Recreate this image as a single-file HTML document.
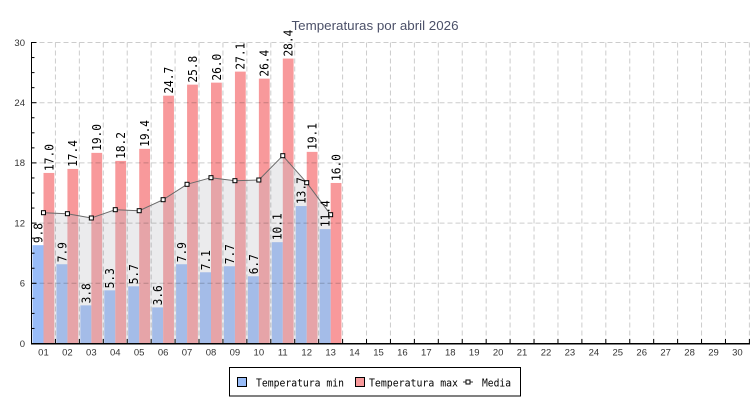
<!DOCTYPE html>
<html><head><meta charset="utf-8"><style>
html,body{margin:0;padding:0;background:#fff;}
svg{display:block;}
.v{font-family:"DejaVu Sans Mono","Liberation Mono",monospace;font-size:12px;fill:#000;}
.ax{font-family:"Liberation Sans",sans-serif;font-size:9.5px;fill:#333;}
</style></head><body>
<svg width="750" height="400" viewBox="0 0 750 400" xmlns="http://www.w3.org/2000/svg">
<rect width="750" height="400" fill="#fff"/>
<text x="375" y="30" text-anchor="middle" font-family="Liberation Sans, sans-serif" font-size="13" fill="#4b5068" textLength="167" lengthAdjust="spacingAndGlyphs">Temperaturas por abril 2026</text>

<!-- bars min -->
<g fill="#98bcf8">
<rect x="32.5" y="245.18" width="11" height="98.32"/>
<rect x="56.43" y="264.24" width="11" height="79.26"/>
<rect x="80.36" y="305.37" width="11" height="38.13"/>
<rect x="104.29" y="290.33" width="11" height="53.17"/>
<rect x="128.22" y="286.31" width="11" height="57.19"/>
<rect x="152.15" y="307.38" width="11" height="36.12"/>
<rect x="176.08" y="264.24" width="11" height="79.26"/>
<rect x="200.01" y="272.27" width="11" height="71.23"/>
<rect x="223.94" y="266.25" width="11" height="77.25"/>
<rect x="247.87" y="276.28" width="11" height="67.22"/>
<rect x="271.8" y="242.17" width="11" height="101.33"/>
<rect x="295.73" y="206.05" width="11" height="137.45"/>
<rect x="319.66" y="229.12" width="11" height="114.38"/>
</g>
<!-- bars max -->
<g fill="#f8999b">
<rect x="43.5" y="172.94" width="10.8" height="170.56"/>
<rect x="67.43" y="168.93" width="10.8" height="174.57"/>
<rect x="91.36" y="152.87" width="10.8" height="190.63"/>
<rect x="115.29" y="160.9" width="10.8" height="182.6"/>
<rect x="139.22" y="148.86" width="10.8" height="194.64"/>
<rect x="163.15" y="95.68" width="10.8" height="247.82"/>
<rect x="187.08" y="84.65" width="10.8" height="258.85"/>
<rect x="211.01" y="82.64" width="10.8" height="260.86"/>
<rect x="234.94" y="71.61" width="10.8" height="271.89"/>
<rect x="258.87" y="78.63" width="10.8" height="264.87"/>
<rect x="282.8" y="58.56" width="10.8" height="284.94"/>
<rect x="306.73" y="151.87" width="10.8" height="191.63"/>
<rect x="330.66" y="182.97" width="10.8" height="160.53"/>
</g>

<!-- media area fill -->
<polygon fill="rgba(190,190,198,0.31)" points="43.47,343.5 43.47,212.7 67.4,213.7 91.33,218 115.26,209.7 139.19,210.7 163.12,199.7 187.05,184.3 210.98,177.7 234.91,180.7 258.84,180 282.77,155.7 306.7,182.7 330.63,214.7 330.63,343.5"/>

<!-- grid -->
<g stroke="rgba(0,0,0,0.2)" stroke-width="1" stroke-dasharray="5,3" fill="none">
<line x1="31.5" y1="283.3" x2="750" y2="283.3"/>
<line x1="31.5" y1="223.1" x2="750" y2="223.1"/>
<line x1="31.5" y1="162.9" x2="750" y2="162.9"/>
<line x1="31.5" y1="102.7" x2="750" y2="102.7"/>
<line x1="31.5" y1="42.5" x2="750" y2="42.5"/>
<line x1="55.43" y1="42.5" x2="55.43" y2="343.5"/>
<line x1="79.36" y1="42.5" x2="79.36" y2="343.5"/>
<line x1="103.29" y1="42.5" x2="103.29" y2="343.5"/>
<line x1="127.22" y1="42.5" x2="127.22" y2="343.5"/>
<line x1="151.15" y1="42.5" x2="151.15" y2="343.5"/>
<line x1="175.08" y1="42.5" x2="175.08" y2="343.5"/>
<line x1="199.01" y1="42.5" x2="199.01" y2="343.5"/>
<line x1="222.94" y1="42.5" x2="222.94" y2="343.5"/>
<line x1="246.87" y1="42.5" x2="246.87" y2="343.5"/>
<line x1="270.8" y1="42.5" x2="270.8" y2="343.5"/>
<line x1="294.73" y1="42.5" x2="294.73" y2="343.5"/>
<line x1="318.66" y1="42.5" x2="318.66" y2="343.5"/>
<line x1="342.59" y1="42.5" x2="342.59" y2="343.5"/>
<line x1="366.52" y1="42.5" x2="366.52" y2="343.5"/>
<line x1="390.45" y1="42.5" x2="390.45" y2="343.5"/>
<line x1="414.38" y1="42.5" x2="414.38" y2="343.5"/>
<line x1="438.31" y1="42.5" x2="438.31" y2="343.5"/>
<line x1="462.24" y1="42.5" x2="462.24" y2="343.5"/>
<line x1="486.17" y1="42.5" x2="486.17" y2="343.5"/>
<line x1="510.1" y1="42.5" x2="510.1" y2="343.5"/>
<line x1="534.03" y1="42.5" x2="534.03" y2="343.5"/>
<line x1="557.96" y1="42.5" x2="557.96" y2="343.5"/>
<line x1="581.89" y1="42.5" x2="581.89" y2="343.5"/>
<line x1="605.82" y1="42.5" x2="605.82" y2="343.5"/>
<line x1="629.75" y1="42.5" x2="629.75" y2="343.5"/>
<line x1="653.68" y1="42.5" x2="653.68" y2="343.5"/>
<line x1="677.61" y1="42.5" x2="677.61" y2="343.5"/>
<line x1="701.54" y1="42.5" x2="701.54" y2="343.5"/>
<line x1="725.47" y1="42.5" x2="725.47" y2="343.5"/>
<line x1="749.4" y1="42.5" x2="749.4" y2="343.5"/>
</g>

<!-- media line -->
<polyline fill="none" stroke="#6a6a6a" stroke-width="1" points="43.47,212.7 67.4,213.7 91.33,218 115.26,209.7 139.19,210.7 163.12,199.7 187.05,184.3 210.98,177.7 234.91,180.7 258.84,180 282.77,155.7 306.7,182.7 330.63,214.7"/>
<g fill="#fff" stroke="#000" stroke-width="1">
<rect x="41.47" y="210.7" width="4" height="4"/>
<rect x="65.4" y="211.7" width="4" height="4"/>
<rect x="89.33" y="216" width="4" height="4"/>
<rect x="113.26" y="207.7" width="4" height="4"/>
<rect x="137.19" y="208.7" width="4" height="4"/>
<rect x="161.12" y="197.7" width="4" height="4"/>
<rect x="185.05" y="182.3" width="4" height="4"/>
<rect x="208.98" y="175.7" width="4" height="4"/>
<rect x="232.91" y="178.7" width="4" height="4"/>
<rect x="256.84" y="178" width="4" height="4"/>
<rect x="280.77" y="153.7" width="4" height="4"/>
<rect x="304.7" y="180.7" width="4" height="4"/>
<rect x="328.63" y="212.7" width="4" height="4"/>
</g>

<!-- value labels -->
<g class="v">
<text transform="translate(42.4,243.18) rotate(-90) scale(0.93,1)">9.8</text>
<text transform="translate(66.33,262.24) rotate(-90) scale(0.93,1)">7.9</text>
<text transform="translate(90.26,303.37) rotate(-90) scale(0.93,1)">3.8</text>
<text transform="translate(114.19,288.33) rotate(-90) scale(0.93,1)">5.3</text>
<text transform="translate(138.12,284.31) rotate(-90) scale(0.93,1)">5.7</text>
<text transform="translate(162.05,305.38) rotate(-90) scale(0.93,1)">3.6</text>
<text transform="translate(185.98,262.24) rotate(-90) scale(0.93,1)">7.9</text>
<text transform="translate(209.91,270.27) rotate(-90) scale(0.93,1)">7.1</text>
<text transform="translate(233.84,264.25) rotate(-90) scale(0.93,1)">7.7</text>
<text transform="translate(257.77,274.28) rotate(-90) scale(0.93,1)">6.7</text>
<text transform="translate(281.7,240.17) rotate(-90) scale(0.93,1)">10.1</text>
<text transform="translate(305.63,204.05) rotate(-90) scale(0.93,1)">13.7</text>
<text transform="translate(329.56,227.12) rotate(-90) scale(0.93,1)">11.4</text>
<text transform="translate(53.3,170.94) rotate(-90) scale(0.93,1)">17.0</text>
<text transform="translate(77.23,166.93) rotate(-90) scale(0.93,1)">17.4</text>
<text transform="translate(101.16,150.87) rotate(-90) scale(0.93,1)">19.0</text>
<text transform="translate(125.09,158.9) rotate(-90) scale(0.93,1)">18.2</text>
<text transform="translate(149.02,146.86) rotate(-90) scale(0.93,1)">19.4</text>
<text transform="translate(172.95,93.68) rotate(-90) scale(0.93,1)">24.7</text>
<text transform="translate(196.88,82.65) rotate(-90) scale(0.93,1)">25.8</text>
<text transform="translate(220.81,80.64) rotate(-90) scale(0.93,1)">26.0</text>
<text transform="translate(244.74,69.61) rotate(-90) scale(0.93,1)">27.1</text>
<text transform="translate(268.67,76.63) rotate(-90) scale(0.93,1)">26.4</text>
<text transform="translate(292.6,56.56) rotate(-90) scale(0.93,1)">28.4</text>
<text transform="translate(316.53,149.87) rotate(-90) scale(0.93,1)">19.1</text>
<text transform="translate(340.46,180.97) rotate(-90) scale(0.93,1)">16.0</text>
</g>

<!-- axes -->
<g stroke="#000" stroke-width="1">
<line x1="31.5" y1="42" x2="31.5" y2="344.5"/>
<line x1="31" y1="343.75" x2="750" y2="343.75" stroke-width="1.5"/>
<!-- y major ticks -->
<line x1="31.5" y1="283.3" x2="36.5" y2="283.3"/>
<line x1="31.5" y1="223.1" x2="36.5" y2="223.1"/>
<line x1="31.5" y1="162.9" x2="36.5" y2="162.9"/>
<line x1="31.5" y1="102.7" x2="36.5" y2="102.7"/>
<line x1="31.5" y1="42.5" x2="36.5" y2="42.5"/>
<!-- y minor ticks -->
<line x1="31.5" y1="328.45" x2="34.5" y2="328.45"/>
<line x1="31.5" y1="313.4" x2="34.5" y2="313.4"/>
<line x1="31.5" y1="298.35" x2="34.5" y2="298.35"/>
<line x1="31.5" y1="268.25" x2="34.5" y2="268.25"/>
<line x1="31.5" y1="253.2" x2="34.5" y2="253.2"/>
<line x1="31.5" y1="238.15" x2="34.5" y2="238.15"/>
<line x1="31.5" y1="208.05" x2="34.5" y2="208.05"/>
<line x1="31.5" y1="193" x2="34.5" y2="193"/>
<line x1="31.5" y1="177.95" x2="34.5" y2="177.95"/>
<line x1="31.5" y1="147.86" x2="34.5" y2="147.86"/>
<line x1="31.5" y1="132.81" x2="34.5" y2="132.81"/>
<line x1="31.5" y1="117.76" x2="34.5" y2="117.76"/>
<line x1="31.5" y1="87.66" x2="34.5" y2="87.66"/>
<line x1="31.5" y1="72.61" x2="34.5" y2="72.61"/>
<line x1="31.5" y1="57.56" x2="34.5" y2="57.56"/>
<!-- x ticks -->
<line x1="55.43" y1="339" x2="55.43" y2="343"/>
<line x1="79.36" y1="339" x2="79.36" y2="343"/>
<line x1="103.29" y1="339" x2="103.29" y2="343"/>
<line x1="127.22" y1="339" x2="127.22" y2="343"/>
<line x1="151.15" y1="339" x2="151.15" y2="343"/>
<line x1="175.08" y1="339" x2="175.08" y2="343"/>
<line x1="199.01" y1="339" x2="199.01" y2="343"/>
<line x1="222.94" y1="339" x2="222.94" y2="343"/>
<line x1="246.87" y1="339" x2="246.87" y2="343"/>
<line x1="270.8" y1="339" x2="270.8" y2="343"/>
<line x1="294.73" y1="339" x2="294.73" y2="343"/>
<line x1="318.66" y1="339" x2="318.66" y2="343"/>
<line x1="342.59" y1="339" x2="342.59" y2="343"/>
<line x1="366.52" y1="339" x2="366.52" y2="343"/>
<line x1="390.45" y1="339" x2="390.45" y2="343"/>
<line x1="414.38" y1="339" x2="414.38" y2="343"/>
<line x1="438.31" y1="339" x2="438.31" y2="343"/>
<line x1="462.24" y1="339" x2="462.24" y2="343"/>
<line x1="486.17" y1="339" x2="486.17" y2="343"/>
<line x1="510.1" y1="339" x2="510.1" y2="343"/>
<line x1="534.03" y1="339" x2="534.03" y2="343"/>
<line x1="557.96" y1="339" x2="557.96" y2="343"/>
<line x1="581.89" y1="339" x2="581.89" y2="343"/>
<line x1="605.82" y1="339" x2="605.82" y2="343"/>
<line x1="629.75" y1="339" x2="629.75" y2="343"/>
<line x1="653.68" y1="339" x2="653.68" y2="343"/>
<line x1="677.61" y1="339" x2="677.61" y2="343"/>
<line x1="701.54" y1="339" x2="701.54" y2="343"/>
<line x1="725.47" y1="339" x2="725.47" y2="343"/>
<line x1="749.4" y1="339" x2="749.4" y2="343"/>
</g>

<!-- y labels -->
<g class="ax" text-anchor="end">
<text x="25" y="346.8">0</text>
<text x="25" y="286.6">6</text>
<text x="25" y="226.4">12</text>
<text x="25" y="166.2">18</text>
<text x="25" y="106">24</text>
<text x="25" y="45.8">30</text>
</g>
<!-- x labels -->
<g class="ax" text-anchor="middle">
<text x="43.47" y="355.5">01</text>
<text x="67.4" y="355.5">02</text>
<text x="91.33" y="355.5">03</text>
<text x="115.26" y="355.5">04</text>
<text x="139.19" y="355.5">05</text>
<text x="163.12" y="355.5">06</text>
<text x="187.05" y="355.5">07</text>
<text x="210.98" y="355.5">08</text>
<text x="234.91" y="355.5">09</text>
<text x="258.84" y="355.5">10</text>
<text x="282.77" y="355.5">11</text>
<text x="306.7" y="355.5">12</text>
<text x="330.63" y="355.5">13</text>
<text x="354.56" y="355.5">14</text>
<text x="378.49" y="355.5">15</text>
<text x="402.42" y="355.5">16</text>
<text x="426.35" y="355.5">17</text>
<text x="450.28" y="355.5">18</text>
<text x="474.21" y="355.5">19</text>
<text x="498.14" y="355.5">20</text>
<text x="522.07" y="355.5">21</text>
<text x="546" y="355.5">22</text>
<text x="569.93" y="355.5">23</text>
<text x="593.86" y="355.5">24</text>
<text x="617.79" y="355.5">25</text>
<text x="641.72" y="355.5">26</text>
<text x="665.65" y="355.5">27</text>
<text x="689.58" y="355.5">28</text>
<text x="713.51" y="355.5">29</text>
<text x="737.44" y="355.5">30</text>
</g>

<!-- legend -->
<rect x="229.5" y="367.5" width="291" height="28.5" fill="#fff" stroke="#000" stroke-width="1"/>
<rect x="237.5" y="377.5" width="9" height="9" fill="#98bcf8" stroke="#000" stroke-width="1"/>
<rect x="355.5" y="377.5" width="9" height="9" fill="#f8999b" stroke="#000" stroke-width="1"/>
<line x1="463" y1="382" x2="473" y2="382" stroke="#333" stroke-width="1"/>
<rect x="466" y="380" width="4" height="4" fill="#fff" stroke="#000" stroke-width="1"/>
<g font-family="DejaVu Sans Mono, Liberation Mono, monospace" font-size="11" fill="#000">
<text x="256" y="386.5" textLength="88" lengthAdjust="spacingAndGlyphs">Temperatura min</text>
<text x="369" y="386.5" textLength="89" lengthAdjust="spacingAndGlyphs">Temperatura max</text>
<text x="482" y="386.5" textLength="29" lengthAdjust="spacingAndGlyphs">Media</text>
</g>
</svg>
</body></html>
